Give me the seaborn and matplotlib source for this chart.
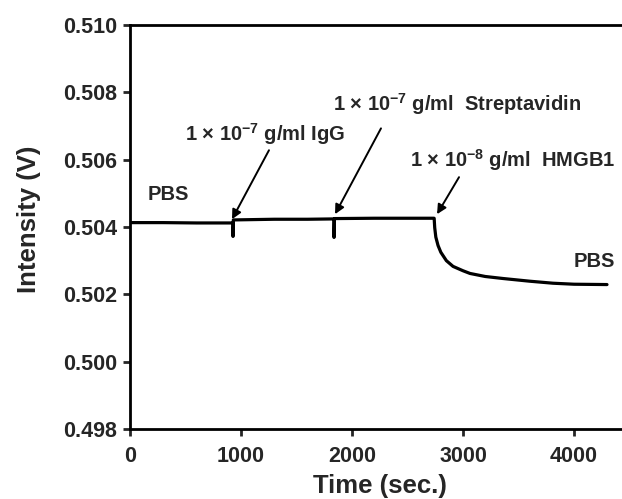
import matplotlib
matplotlib.use("Agg")
import matplotlib.pyplot as plt
import seaborn as sns
import pandas as pd

# ---- data ----
time_s = [0, 300, 600, 928, 928, 931, 1300, 1600, 1838, 1838, 1841, 2200, 2500,
          2740, 2745, 2755, 2775, 2800, 2850, 2910, 3000, 3063, 3200, 3360,
          3600, 3811, 4000, 4297]
intensity_v = [0.50413, 0.50413, 0.50412, 0.50412, 0.50372, 0.50421, 0.50423,
               0.50423, 0.50424, 0.50369, 0.50425, 0.50426, 0.50426,
               0.50426, 0.50398, 0.50370, 0.50345, 0.50325, 0.50300, 0.50283,
               0.50270, 0.50262, 0.50253, 0.50247, 0.50239, 0.50233, 0.50230,
               0.50229]

x_ticks = [0, 1000, 2000, 3000, 4000]
y_ticks = [0.498, 0.500, 0.502, 0.504, 0.506, 0.508, 0.510]
y_tick_labels = ["0.498", "0.500", "0.502", "0.504", "0.506", "0.508", "0.510"]

labels = [
    r"PBS",
    r"1 $\times$ 10$^{\mathbf{-7}}$ g/ml IgG",
    r"1 $\times$ 10$^{\mathbf{-7}}$ g/ml  Streptavidin",
    r"1 $\times$ 10$^{\mathbf{-8}}$ g/ml  HMGB1",
    r"PBS",
]
label_pos = [(162, 0.50497), (495, 0.50675), (1829, 0.50764), (2523, 0.50598), (4000, 0.50298)]
arrows_from = [(1252, 0.50628), (2261, 0.50693), (2964, 0.50548)]
arrows_to = [(919, 0.50423), (1847, 0.50438), (2766, 0.50438)]

# ---- style ----
sns.set_style("ticks")
plt.rcParams["font.family"] = ["Liberation Sans", "DejaVu Sans"]
plt.rcParams["font.weight"] = "bold"
plt.rcParams["mathtext.fontset"] = "custom"
plt.rcParams["mathtext.rm"] = "Liberation Sans:bold"
plt.rcParams["mathtext.bf"] = "Liberation Sans:bold"
plt.rcParams["mathtext.it"] = "Liberation Sans:bold"

fig = plt.figure(figsize=(6.22, 4.99), dpi=100)
ax = fig.add_axes([0.209, 0.1403, 0.804, 0.8096])

df = pd.DataFrame({"Time": time_s, "Intensity": intensity_v})
sns.lineplot(data=df, x="Time", y="Intensity", ax=ax, estimator=None, sort=False,
             color="black", linewidth=2.3)

ax.set_xlim(0, 4505)
ax.set_ylim(0.498, 0.510)
ax.set_xticks(x_ticks)
ax.set_xticklabels([str(t) for t in x_ticks])
ax.set_yticks(y_ticks)
ax.set_yticklabels(y_tick_labels)
ax.tick_params(axis="both", direction="out", length=5, width=2, labelsize=15.5)
ax.tick_params(axis="x", pad=7)
ax.tick_params(axis="y", pad=4)
for lbl in ax.get_xticklabels() + ax.get_yticklabels():
    lbl.set_fontweight("bold")
for side in ["left", "bottom", "top", "right"]:
    ax.spines[side].set_visible(True)
    ax.spines[side].set_linewidth(2)
    ax.spines[side].set_color("black")

ax.set_xlabel("Time (sec.)", fontsize=18.5, fontweight="bold")
ax.set_ylabel("Intensity (V)", fontsize=18.5, fontweight="bold")
ax.xaxis.set_label_coords(0.5, -0.112)
ax.yaxis.set_label_coords(-0.178, 0.52)

for txt, (x, y) in zip(labels, label_pos):
    ax.text(x, y, txt, fontsize=14.5, fontweight="bold", ha="left", va="center")

for (x0, y0), (x1, y1) in zip(arrows_from, arrows_to):
    ax.annotate("", xy=(x1, y1), xytext=(x0, y0),
                arrowprops=dict(arrowstyle="-|>", lw=1.4, color="black",
                                mutation_scale=14, shrinkA=0, shrinkB=0))

fig.savefig("out.png", dpi=100)
